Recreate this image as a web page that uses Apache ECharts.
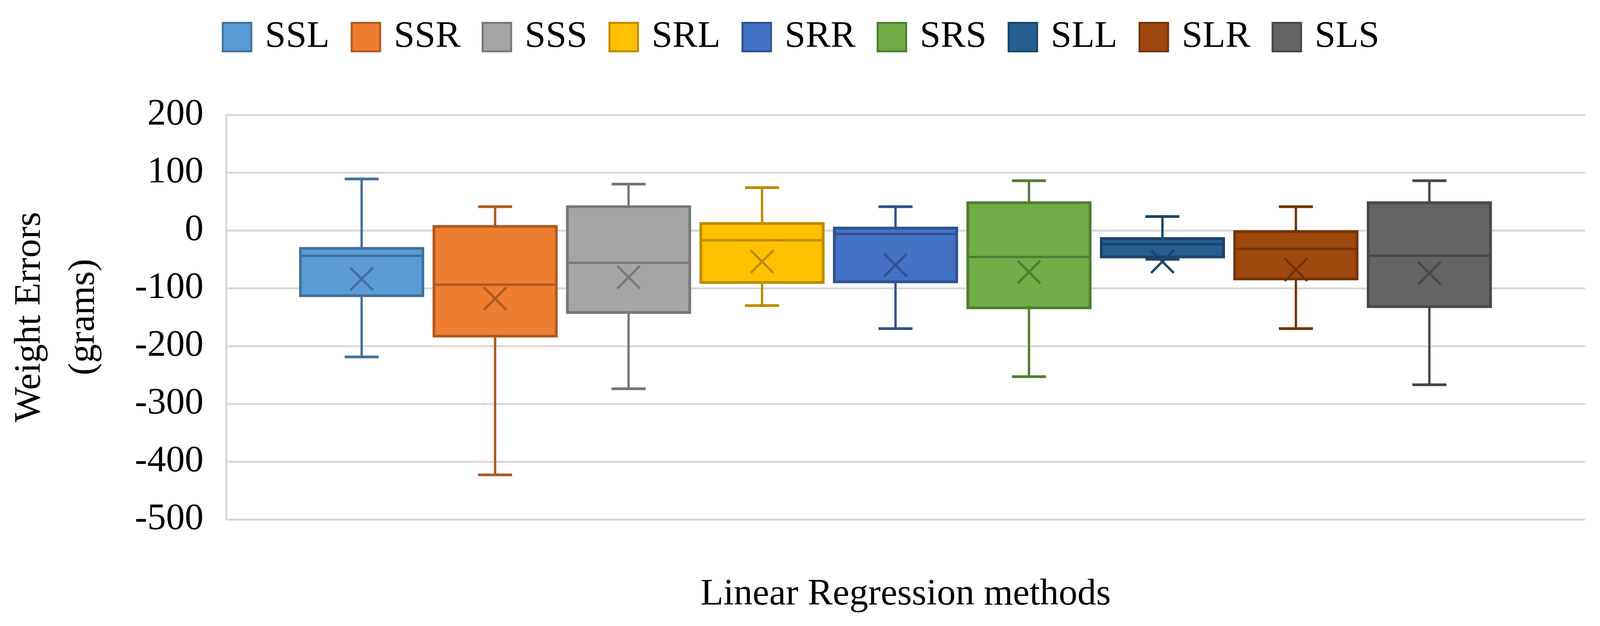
<!DOCTYPE html>
<html>
<head>
<meta charset="utf-8">
<script src="https://cdn.jsdelivr.net/npm/echarts@6/dist/echarts.min.js"></script>
<style>
html,body{margin:0;padding:0;background:#fff;}
#chart{width:4099px;height:1603px;}
</style>
</head>
<body>
<div id="chart"></div>
<script>
// ---- data ----
const methods = ['SSL','SSR','SSS','SRL','SRR','SRS','SLL','SLR','SLS'];
const whiskerLow  = [-219,-423,-274,-130,-170,-253,-50,-170,-267];
const q1          = [-113,-183,-142, -90, -89,-134,-46, -84,-132];
const median      = [ -44, -94, -56, -17,  -6, -46,-24, -32, -44];
const q3          = [ -31,   7,  41,  12,   4,  48,-14,  -2,  48];
const whiskerHigh = [  89,  41,  80,  74,  41,  86, 24,  41,  86];
const meanVal     = [ -84,-118, -81, -54, -60, -72,-54, -68, -74];
const yTicks = { min: -500, max: 200, interval: 100 };
const xTitle = 'Linear Regression methods';
const yTitle = 'Weight Errors\n(grams)';

// ---- styles ----
const fills   = ['#5B9BD5','#ED7D31','#A5A5A5','#FFC000','#4472C4','#70AD47','#255E91','#9E480E','#636363'];
const borders = ['#41719C','#AE5A21','#787878','#BC8C00','#2F528F','#507E32','#1B4569','#74340A','#484848'];
const FONT = 'Liberation Serif';

const chart = echarts.init(document.getElementById('chart'), null, {renderer:'canvas'});

function renderBox(params, api) {
  const xi = api.value(0);
  const band = api.size([1, 0])[0];
  const bw = band * 0.917, cw = band * 0.255, xs = band * 0.085;
  const cx = api.coord([xi, 0])[0];
  const yLow = api.coord([xi, api.value(1)])[1];
  const yQ1  = api.coord([xi, api.value(2)])[1];
  const yMed = api.coord([xi, api.value(3)])[1];
  const yQ3  = api.coord([xi, api.value(4)])[1];
  const yHigh= api.coord([xi, api.value(5)])[1];
  const yMean= api.coord([xi, api.value(6)])[1];
  const i = params.seriesIndex;
  const lc = borders[i];
  const ls = {stroke: lc, lineWidth: 6};
  return {
    type: 'group',
    children: [
      {type:'line', shape:{x1:cx, y1:yQ1, x2:cx, y2:yLow}, style:ls},
      {type:'line', shape:{x1:cx-cw/2, y1:yLow, x2:cx+cw/2, y2:yLow}, style:{stroke: lc, lineWidth: 7}},
      {type:'line', shape:{x1:cx, y1:yQ3, x2:cx, y2:yHigh}, style:ls},
      {type:'line', shape:{x1:cx-cw/2, y1:yHigh, x2:cx+cw/2, y2:yHigh}, style:{stroke: lc, lineWidth: 7}},
      {type:'rect', shape:{x:cx-bw/2, y:yQ3, width:bw, height:yQ1-yQ3},
        style:{fill: fills[i], stroke: lc, lineWidth: 7}},
      {type:'line', shape:{x1:cx-bw/2, y1:yMed, x2:cx+bw/2, y2:yMed}, style:{stroke: lc, lineWidth: 6}},
      {type:'line', shape:{x1:cx-xs, y1:yMean-xs, x2:cx+xs, y2:yMean+xs}, style:{stroke: lc, lineWidth: 6}},
      {type:'line', shape:{x1:cx-xs, y1:yMean+xs, x2:cx+xs, y2:yMean-xs}, style:{stroke: lc, lineWidth: 6}}
    ]
  };
}

const series = methods.map((m, i) => ({
  name: m,
  type: 'custom',
  xAxisIndex: 1,
  yAxisIndex: 1,
  renderItem: renderBox,
  itemStyle: {color: fills[i], borderColor: borders[i], borderWidth: 4},
  encode: {x: 0, y: [1,2,3,4,5,6]},
  data: [[i, whiskerLow[i], q1[i], median[i], q3[i], whiskerHigh[i], meanVal[i]]],
  z: 3
}));

const option = {
  animation: false,
  backgroundColor: '#ffffff',
  textStyle: {fontFamily: FONT},
  legend: {
    top: 42,
    left: 'center',
    itemWidth: 73,
    itemHeight: 73,
    itemGap: 54,
    icon: 'rect',
    textStyle: {fontFamily: FONT, fontSize: 96, color: '#000', padding: [0,0,0,30]},
    data: methods.map((m, i) => ({name: m, icon: 'rect',
      itemStyle: {color: fills[i], borderColor: borders[i], borderWidth: 5}}))
  },
  grid: [
    {left: 545, right: 41, top: 294, bottom: 273, containLabel: false},
    {left: 755, right: 269, top: 294, bottom: 273, containLabel: false}
  ],
  xAxis: [
    {type: 'category', gridIndex: 0, data: [''],
      axisLine: {show: false}, axisTick: {show: false}, axisLabel: {show: false},
      name: xTitle, nameLocation: 'middle', nameGap: 145,
      nameTextStyle: {fontFamily: FONT, fontSize: 96, color: '#000'}},
    {type: 'category', gridIndex: 1, data: methods, show: false}
  ],
  yAxis: [
    {type: 'value', gridIndex: 0, min: yTicks.min, max: yTicks.max, interval: yTicks.interval,
      axisLine: {show: true, lineStyle: {color: '#D9D9D9', width: 5}},
      axisTick: {show: false},
      axisLabel: {fontFamily: FONT, fontSize: 96, color: '#000', margin: 58},
      splitLine: {show: true, lineStyle: {color: '#D9D9D9', width: 5}},
      name: yTitle, nameLocation: 'middle', nameRotate: 90, nameGap: 295,
      nameTextStyle: {fontFamily: FONT, fontSize: 96, color: '#000', lineHeight: 138, align: 'center'}},
    {type: 'value', gridIndex: 1, min: yTicks.min, max: yTicks.max, interval: yTicks.interval, show: false,
      splitLine: {show: false}}
  ],
  series: series
};
chart.setOption(option);
</script>
</body>
</html>
